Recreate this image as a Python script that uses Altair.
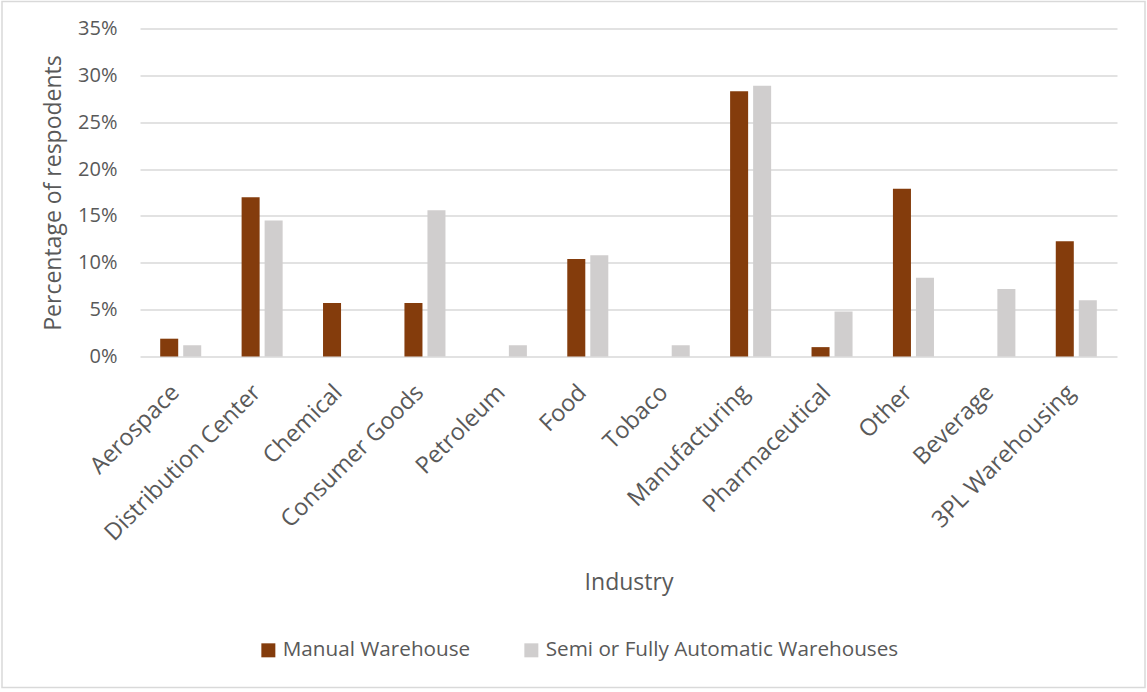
import altair as alt
import pandas as pd

industries = ["Aerospace", "Distribution Center", "Chemical", "Consumer Goods", "Petroleum",
              "Food", "Tobaco", "Manufacturing", "Pharmaceutical", "Other", "Beverage",
              "3PL Warehousing"]
manual = [1.9, 17.0, 5.7, 5.7, 0.0, 10.4, 0.0, 28.3, 1.0, 17.9, 0.0, 12.3]
semi = [1.2, 14.5, 0.0, 15.6, 1.2, 10.8, 1.2, 28.9, 4.8, 8.4, 7.2, 6.0]
series = ["Manual Warehouse", "Semi or Fully Automatic Warehouses"]
colors = ["#843C0C", "#D0CECE"]

rows = []
for i, ind in enumerate(industries):
    rows.append({"Industry": ind, "Series": series[0], "Value": manual[i] / 100})
    rows.append({"Industry": ind, "Series": series[1], "Value": semi[i] / 100})
df = pd.DataFrame(rows)

FONT = "Open Sans"
TXT = "#595959"
W, H = 977, 328

bars = alt.Chart(df).mark_bar().encode(
    x=alt.X("Industry:N", sort=industries,
            scale=alt.Scale(paddingInner=0.496, paddingOuter=0.248),
            axis=alt.Axis(title="Industry", labelAngle=-45, labelAlign="right",
                          labelBaseline="alphabetic", labelPadding=37,
                          ticks=False, domain=False,
                          labelFontSize=23.5, labelColor=TXT, labelFont=FONT,
                          titleFontSize=23, titleColor=TXT, titleFont=FONT,
                          titleFontWeight="normal", titleY=233, titleBaseline="alphabetic",
                          labelLimit=400)),
    xOffset=alt.XOffset("Series:N", sort=series,
                        scale=alt.Scale(paddingInner=0.217, paddingOuter=0)),
    y=alt.Y("Value:Q", scale=alt.Scale(domain=[0, 0.35], nice=False),
            axis=alt.Axis(title="Percentage of respodents", format=".0%",
                          values=[0, 0.05, 0.1, 0.15, 0.2, 0.25, 0.3, 0.35],
                          ticks=False, domain=False, labelPadding=23,
                          labelFontSize=20, labelColor=TXT, labelFont=FONT,
                          gridColor="#D9D9D9", gridWidth=1.5,
                          titleFontSize=23, titleColor=TXT, titleFont=FONT,
                          titleFontWeight="normal", titleX=-87, titleY=164,
                          titleAngle=-90, titleBaseline="middle", titleAlign="center")),
    color=alt.Color("Series:N", sort=series,
                    scale=alt.Scale(domain=series, range=colors),
                    legend=alt.Legend(title=None, orient="none", legendX=118, legendY=611,
                                      direction="horizontal", columns=2, columnPadding=50,
                                      symbolType="square", symbolSize=196,
                                      symbolStrokeWidth=0, labelOffset=4,
                                      labelFontSize=20.7, labelColor=TXT, labelFont=FONT,
                                      labelLimit=500)),
)

border = alt.Chart(alt.Data(values=[{}])).mark_rect(
    fill=None, stroke="#D9D9D9", strokeWidth=1.5
).encode(
    x=alt.value(-138), x2=alt.value(1005),
    y=alt.value(-27), y2=alt.value(659)
)

chart = alt.layer(border, bars).properties(
    width=W, height=H,
    autosize=alt.AutoSizeParams(type="none"),
    padding={"left": 140, "top": 28.5, "right": 30, "bottom": 335.5},
    background="white",
).configure_view(stroke=None)

chart.save("out.html", embed_options={"renderer": "svg", "actions": False})
